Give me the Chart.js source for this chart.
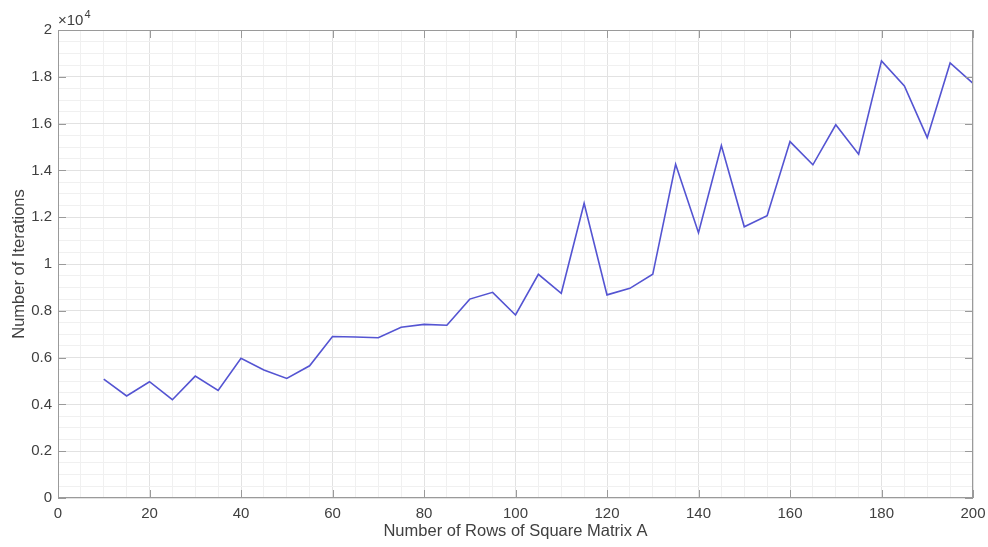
<!DOCTYPE html>
<html>
<head>
<meta charset="utf-8">
<script src="https://cdn.jsdelivr.net/npm/chart.js@4.4.1/dist/chart.umd.min.js"></script>
<style>
    html, body { margin: 0; padding: 0; background: #fff; }
    #wrap { width: 988px; height: 547px; position: relative; }
</style>
</head>
<body>
<div id="wrap"><canvas id="chart"></canvas></div>
<script>
    // matrix sizes and iteration counts
    const rows = [10, 15, 20, 25, 30, 35, 40, 45, 50, 55, 60, 65, 70, 75, 80, 85, 90, 95, 100, 105,
        110, 115, 120, 125, 130, 135, 140, 145, 150, 155, 160, 165, 170, 175, 180, 185, 190, 195, 200];
    const iterations = [5080, 4360, 4970, 4200, 5210, 4600, 5970, 5470, 5110, 5650, 6900, 6880, 6850, 7300, 7420, 7380, 8500, 8790, 7820, 9560,
        8750, 12590, 8680, 8960, 9560, 14260, 11340, 15060, 11590, 12060, 15230, 14240, 15950, 14690, 18680, 17610, 15400, 18590, 17720];
    const xMajorTicks = [0, 20, 40, 60, 80, 100, 120, 140, 160, 180, 200];
    const yMajorTicks = [0, 2000, 4000, 6000, 8000, 10000, 12000, 14000, 16000, 18000, 20000];

    const fontFamily = '"Liberation Sans", Arial, Helvetica, sans-serif';
    const textColor = '#404040';
    const axisColor = '#9a9a9a';

    // box, inward tick marks and the x10^4 multiplier, like a MATLAB axes
    const matlabAxes = {
        id: 'matlabAxes',
        afterDraw(chart) {
            const { ctx, chartArea: a, scales: { x, y } } = chart;
            const len = 8;
            ctx.save();
            ctx.strokeStyle = axisColor;
            ctx.lineWidth = 1;
            ctx.strokeRect(a.left + 0.5, a.top + 0.5, a.right - a.left - 1, a.bottom - a.top - 1);
            ctx.beginPath();
            xMajorTicks.forEach(v => {
                const px = Math.round(x.getPixelForValue(v)) + 0.5;
                ctx.moveTo(px, a.bottom); ctx.lineTo(px, a.bottom - len);
                ctx.moveTo(px, a.top); ctx.lineTo(px, a.top + len);
            });
            yMajorTicks.forEach(v => {
                const py = Math.round(y.getPixelForValue(v)) + 0.5;
                ctx.moveTo(a.left, py); ctx.lineTo(a.left + len, py);
                ctx.moveTo(a.right, py); ctx.lineTo(a.right - len, py);
            });
            ctx.stroke();
            ctx.fillStyle = textColor;
            ctx.textBaseline = 'alphabetic';
            ctx.textAlign = 'left';
            ctx.font = '15px ' + fontFamily;
            ctx.fillText('\u00d710', a.left, a.top - 5);
            const w = ctx.measureText('\u00d710').width;
            ctx.font = '11px ' + fontFamily;
            ctx.fillText('4', a.left + w + 1, a.top - 12);
            ctx.restore();
        }
    };

    new Chart(document.getElementById('chart'), {
        type: 'line',
        data: {
            datasets: [{
                data: rows.map((r, i) => ({ x: r, y: iterations[i] })),
                borderColor: '#5454d2',
                borderWidth: 1.6,
                pointRadius: 0,
                tension: 0,
                fill: false
            }]
        },
        options: {
            responsive: true,
            maintainAspectRatio: false,
            animation: false,
            layout: { padding: { top: 30, right: 15, left: 0, bottom: 0 } },
            plugins: { legend: { display: false }, tooltip: { enabled: false } },
            scales: {
                x: {
                    type: 'linear',
                    min: 0, max: 200,
                    afterFit: s => { s.height = 49; s.paddingLeft = 0; s.paddingRight = 0; },
                    grid: {
                        drawTicks: false,
                        color: c => c.tick && c.tick.value % 20 === 0 ? '#e2e2e2' : '#f0f0f0'
                    },
                    border: { display: false },
                    ticks: {
                        stepSize: 5, autoSkip: false, maxRotation: 0, padding: 7,
                        color: textColor, font: { family: fontFamily, size: 15 },
                        callback: v => (v % 20 === 0 ? String(v) : '')
                    },
                    title: {
                        display: true, text: 'Number of Rows of Square Matrix A',
                        color: textColor, font: { family: fontFamily, size: 16.5 }, padding: { top: 0, bottom: 6 }
                    }
                },
                y: {
                    min: 0, max: 20000,
                    afterFit: s => { s.width = 58; },
                    grid: {
                        drawTicks: false,
                        color: c => c.tick && c.tick.value % 2000 === 0 ? '#e2e2e2' : '#f0f0f0'
                    },
                    border: { display: false },
                    ticks: {
                        stepSize: 500, autoSkip: false, padding: 6,
                        color: textColor, font: { family: fontFamily, size: 15 },
                        callback: v => (v % 2000 === 0 ? String(v / 10000) : '')
                    },
                    title: {
                        display: true, text: 'Number of Iterations',
                        color: textColor, font: { family: fontFamily, size: 16.5 }, padding: { top: 10, bottom: 0 }
                    }
                }
            }
        },
        plugins: [matlabAxes]
    });
</script>
</body>
</html>
